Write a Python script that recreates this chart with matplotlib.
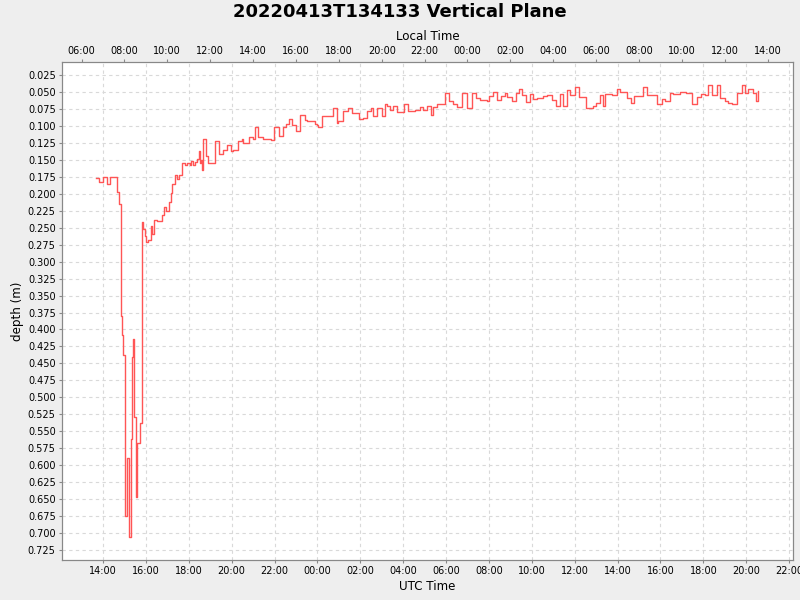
import matplotlib
matplotlib.use("Agg")
import matplotlib.pyplot as plt
import matplotlib.dates as mdates
import numpy as np
import pandas as pd

# hours since 2022-04-13 00:00 UTC, depth in metres (step values)
hours = [13.67, 13.83, 13.99, 14.17, 14.33, 14.67, 14.76, 14.84, 14.86, 14.89,
         14.95, 15.04, 15.13, 15.21, 15.29, 15.37, 15.42, 15.47, 15.53, 15.60,
         15.71, 15.81, 15.89, 15.96, 16.01, 16.11, 16.22, 16.29, 16.36, 16.50,
         16.74, 16.85, 16.94, 17.09, 17.15, 17.20, 17.36, 17.47, 17.53, 17.70,
         17.82, 17.90, 18.06, 18.09, 18.18, 18.29, 18.37, 18.49, 18.52, 18.56,
         18.60, 18.68, 18.79, 18.91, 19.22, 19.42, 19.58, 19.77, 19.96, 20.08,
         20.28, 20.47, 20.53, 20.67, 20.80, 20.98, 21.09, 21.24, 21.48, 21.82,
         21.99, 22.21, 22.38, 22.52, 22.69, 22.80, 22.99, 23.19, 23.42, 23.50,
         23.89, 23.97, 24.04, 24.23, 24.74, 24.90, 24.97, 25.21, 25.41, 25.63,
         25.94, 26.14, 26.30, 26.50, 26.61, 26.79, 27.00, 27.15, 27.26, 27.39,
         27.54, 27.70, 28.04, 28.24, 28.55, 28.79, 28.91, 29.10, 29.29, 29.41,
         29.56, 29.95, 30.14, 30.31, 30.53, 30.76, 30.99, 31.20, 31.38, 31.58,
         31.90, 32.02, 32.20, 32.36, 32.55, 32.75, 32.83, 33.06, 33.25, 33.42,
         33.56, 33.73, 33.92, 34.07, 34.26, 34.54, 34.69, 34.96, 35.13, 35.32,
         35.44, 35.66, 35.78, 36.02, 36.20, 36.51, 36.84, 36.99, 37.18, 37.31,
         37.41, 37.73, 37.96, 38.11, 38.43, 38.61, 38.77, 39.17, 39.36, 39.83,
         40.06, 40.21, 40.45, 40.60, 40.91, 41.19, 41.46, 41.69, 41.89, 42.08,
         42.23, 42.39, 42.62, 42.78, 43.01, 43.17, 43.35, 43.59, 43.79, 43.94,
         44.10, 44.30, 44.46, 44.56]
depth = [0.177, 0.183, 0.176, 0.185, 0.176, 0.197, 0.215, 0.300, 0.380, 0.408,
         0.438, 0.675, 0.590, 0.706, 0.562, 0.441, 0.414, 0.529, 0.647, 0.567,
         0.538, 0.241, 0.252, 0.262, 0.271, 0.268, 0.248, 0.260, 0.239, 0.240,
         0.231, 0.219, 0.225, 0.212, 0.199, 0.185, 0.173, 0.178, 0.172, 0.154,
         0.157, 0.154, 0.157, 0.152, 0.157, 0.153, 0.149, 0.137, 0.155, 0.150,
         0.165, 0.120, 0.145, 0.154, 0.122, 0.141, 0.136, 0.128, 0.137, 0.136,
         0.122, 0.120, 0.125, 0.125, 0.117, 0.119, 0.101, 0.116, 0.119, 0.121,
         0.101, 0.115, 0.101, 0.097, 0.090, 0.099, 0.107, 0.084, 0.091, 0.093,
         0.097, 0.099, 0.102, 0.085, 0.074, 0.096, 0.093, 0.078, 0.074, 0.081,
         0.090, 0.088, 0.078, 0.074, 0.085, 0.073, 0.085, 0.067, 0.070, 0.077,
         0.070, 0.079, 0.067, 0.078, 0.076, 0.072, 0.077, 0.071, 0.084, 0.072,
         0.068, 0.052, 0.064, 0.067, 0.072, 0.051, 0.074, 0.051, 0.059, 0.062,
         0.064, 0.056, 0.050, 0.062, 0.056, 0.052, 0.057, 0.064, 0.051, 0.045,
         0.054, 0.065, 0.053, 0.060, 0.059, 0.056, 0.054, 0.062, 0.071, 0.053,
         0.071, 0.047, 0.054, 0.043, 0.057, 0.073, 0.071, 0.066, 0.054, 0.071,
         0.053, 0.054, 0.046, 0.050, 0.059, 0.066, 0.056, 0.043, 0.054, 0.068,
         0.061, 0.063, 0.051, 0.053, 0.050, 0.051, 0.067, 0.057, 0.053, 0.054,
         0.040, 0.054, 0.040, 0.059, 0.063, 0.066, 0.067, 0.052, 0.040, 0.052,
         0.046, 0.052, 0.063, 0.049]

title = "20220413T134133 Vertical Plane"
local_offset = -7  # hours, local = UTC - 7
yticks = np.arange(0.025, 0.7251, 0.025)

start = pd.Timestamp("2022-04-13")
times = start + pd.to_timedelta(hours, unit="h")
x0 = start + pd.Timedelta(hours=12.09)
x1 = start + pd.Timedelta(hours=46.18)

grey = "#888888"
fig = plt.figure(figsize=(8, 6), dpi=100, facecolor="#eeeeee")
ax = fig.add_axes([62 / 800, 40 / 600, 731 / 800, 498 / 600])
ax.set_facecolor("white")
ax.step(times, depth, where="post", color="#ff5555", lw=1.0)

ax.set_xlim(x0, x1)
ax.set_ylim(0.7397, 0.0058)
ax.set_yticks(yticks)
ax.yaxis.set_major_formatter(plt.FormatStrFormatter("%.3f"))
ax.xaxis.set_major_locator(mdates.HourLocator(byhour=range(0, 24, 2)))
ax.xaxis.set_major_formatter(mdates.DateFormatter("%H:%M"))
ax.grid(True, color="#d9d9d9", ls=(0, (3, 3)), lw=0.8)

ax2 = ax.twiny()
ax2.set_xlim(x0 + pd.Timedelta(hours=local_offset), x1 + pd.Timedelta(hours=local_offset))
ax2.xaxis.set_major_locator(mdates.HourLocator(byhour=range(0, 24, 2)))
ax2.xaxis.set_major_formatter(mdates.DateFormatter("%H:%M"))

for a in (ax, ax2):
    for s in a.spines.values():
        s.set_color(grey)
    a.tick_params(colors=grey, labelcolor="black", length=2, pad=2.5, labelsize=7)

fig.text(0.5, 1 - 12 / 600, title, ha="center", va="center", fontsize=13, fontweight="bold")
fig.text(427.5 / 800, 1 - 36 / 600, "Local Time", ha="center", va="center", fontsize=8.6)
fig.text(427.5 / 800, 1 - 586 / 600, "UTC Time", ha="center", va="center", fontsize=8.6)
fig.text(18 / 800, 1 - 311 / 600, "depth (m)", ha="center", va="center", rotation=90, fontsize=8.6)

fig.savefig("out.png", dpi=100, facecolor=fig.get_facecolor())
